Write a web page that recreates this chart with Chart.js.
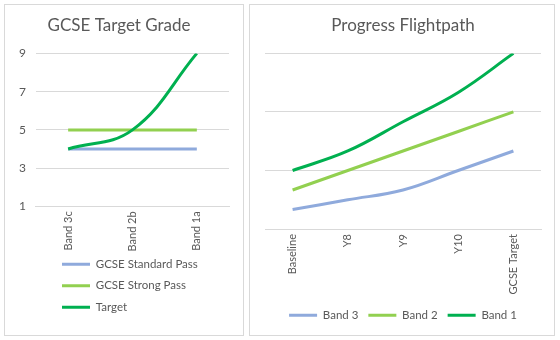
<!DOCTYPE html>
<html>
<head>
<meta charset="utf-8">
<script src="https://cdn.jsdelivr.net/npm/chart.js@4"></script>
<style>
  body { margin: 0; background: #fff; width: 560px; height: 340px; position: relative; overflow: hidden; }
  .panel { position: absolute; top: 4px; height: 332px; border: 1px solid #d9d9d9; box-sizing: border-box; }
  #leftPanel { left: 4px; width: 240px; }
  #rightPanel { left: 249px; width: 306px; }
  canvas { display: block; }
</style>
</head>
<body>
<div class="panel" id="leftPanel"><canvas id="gradeChart" width="238" height="330"></canvas></div>
<div class="panel" id="rightPanel"><canvas id="pathChart" width="304" height="330"></canvas></div>
<script>
// left chart data
const bands = ["Band 3c", "Band 2b", "Band 1a"];
const standardPass = [4, 4, 4];
const strongPass = [5, 5, 5];
const target = [4, 5, 9];
const gradeTicks = [1, 3, 5, 7, 9];

// right chart data
const stages = ["Baseline", "Y8", "Y9", "Y10", "GCSE Target"];
const band3 = [1, 1.5, 2, 3, 4];
const band2 = [2, 3, 4, 5, 6];
const band1 = [3, 4, 5.5, 7, 9];

const FONT = "Lato, 'Liberation Sans', sans-serif";
const TEXT = "#595959";
const GRID = "#d9d9d9";
const BLUE = "#8faadc", LIGHT = "#92d050", GREEN = "#00b050";

Chart.defaults.font.family = FONT;
Chart.defaults.font.size = 12;
Chart.defaults.color = TEXT;
Chart.defaults.animation = false;

function line(label, data, color, extra) {
  return Object.assign({
    label: label,
    data: data,
    borderColor: color,
    backgroundColor: color,
    borderWidth: 3,
    pointRadius: 0,
    tension: 0.4,
    fill: false
  }, extra || {});
}

function xAxis() {
  return {
    offset: true,
    grid: { display: false, drawTicks: false },
    border: { display: true, color: GRID, width: 1 },
    ticks: { minRotation: 90, maxRotation: 90, padding: 5, color: TEXT, font: { size: 11 } }
  };
}

function legendOpts(extra) {
  return Object.assign({
    position: "bottom",
    labels: {
      usePointStyle: true,
      pointStyle: "line",
      pointStyleWidth: 28,
      boxHeight: 12,
      padding: 10,
      color: TEXT,
      font: { size: 11.5 },
      sort: (a, b) => a.datasetIndex - b.datasetIndex
    }
  }, extra || {});
}

// move the legend after layout (left edge for the stacked one, small vertical nudge)
const legendShift = {
  id: "legendShift",
  afterLayout(chart, args, opts) {
    if (!opts) return;
    if (opts.left != null) chart.legend.left = opts.left;
    if (opts.dy) { chart.legend.top += opts.dy; chart.legend.bottom += opts.dy; }
  }
};

new Chart(document.getElementById("gradeChart"), {
  type: "line",
  data: {
    labels: bands,
    datasets: [
      line("GCSE Standard Pass", standardPass, BLUE),
      line("GCSE Strong Pass", strongPass, LIGHT),
      line("Target", target, GREEN, { order: -1 })
    ]
  },
  options: {
    responsive: false,
    layout: { padding: { left: 4, right: 14, top: 0, bottom: 4 } },
    scales: {
      x: xAxis(),
      y: {
        min: 1, max: 9,
        afterBuildTicks: (axis) => { axis.ticks = gradeTicks.map(v => ({ value: v })); },
        grid: { color: GRID, drawTicks: false },
        border: { display: false },
        ticks: { padding: 10, color: TEXT, font: { size: 12 } }
      }
    },
    plugins: {
      title: { display: true, text: "GCSE Target Grade", color: TEXT, font: { size: 17, weight: "normal" }, padding: { top: 10, bottom: 18 } },
      legend: legendOpts({ align: "start", fullSize: false }),
      tooltip: { enabled: false },
      legendShift: { left: 47, dy: -8 }
    }
  },
  plugins: [legendShift]
});

new Chart(document.getElementById("pathChart"), {
  type: "line",
  data: {
    labels: stages,
    datasets: [
      line("Band 3", band3, BLUE),
      line("Band 2", band2, LIGHT),
      line("Band 1", band1, GREEN)
    ]
  },
  options: {
    responsive: false,
    layout: { padding: { left: 15, right: 13, top: 0, bottom: 4 } },
    scales: {
      x: xAxis(),
      y: {
        min: 0, max: 9,
        ticks: { display: false, stepSize: 3 },
        grid: { color: GRID, drawTicks: false },
        border: { display: false }
      }
    },
    plugins: {
      title: { display: true, text: "Progress Flightpath", color: TEXT, font: { size: 17, weight: "normal" }, padding: { top: 10, bottom: 18 } },
      legend: legendOpts(),
      tooltip: { enabled: false }
    }
  }
});
</script>
</body>
</html>
